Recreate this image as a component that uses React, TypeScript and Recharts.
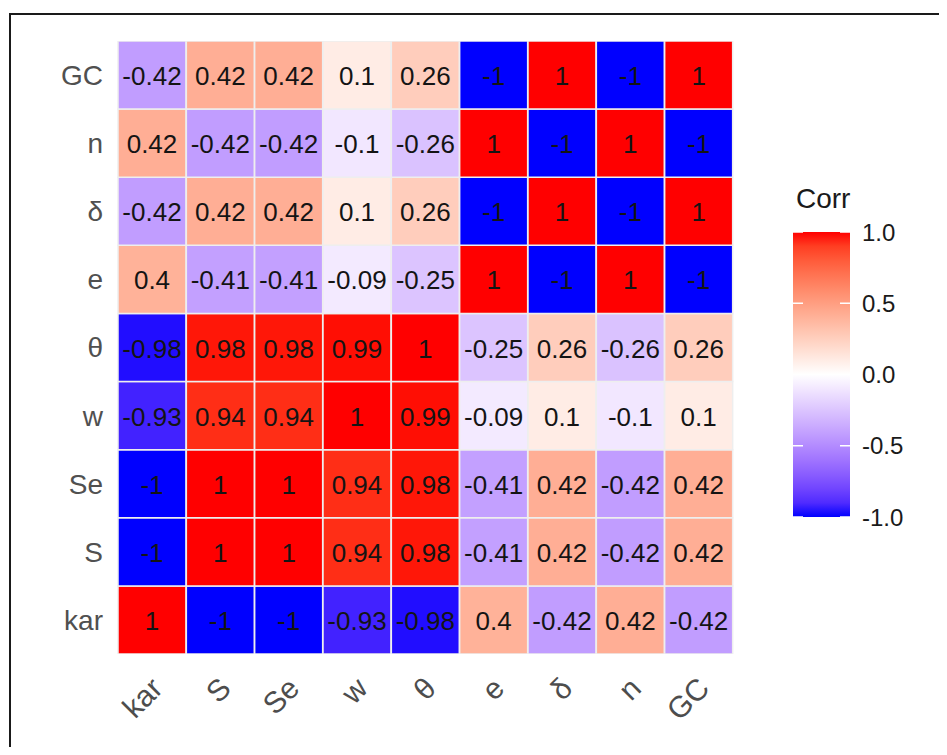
import { BarChart, Bar, XAxis, YAxis, Cell, LabelList } from "recharts";

// variables, bottom row first (kar) / left column first
const variables = ["kar", "S", "Se", "w", "θ", "e", "δ", "n", "GC"];

// correlation rows, columns in the same order as `variables`
const karRow = [1, -1, -1, -0.93, -0.98, 0.4, -0.42, 0.42, -0.42];
const sRow = [-1, 1, 1, 0.94, 0.98, -0.41, 0.42, -0.42, 0.42];
const seRow = [-1, 1, 1, 0.94, 0.98, -0.41, 0.42, -0.42, 0.42];
const wRow = [-0.93, 0.94, 0.94, 1, 0.99, -0.09, 0.1, -0.1, 0.1];
const thetaRow = [-0.98, 0.98, 0.98, 0.99, 1, -0.25, 0.26, -0.26, 0.26];
const eRow = [0.4, -0.41, -0.41, -0.09, -0.25, 1, -1, 1, -1];
const deltaRow = [-0.42, 0.42, 0.42, 0.1, 0.26, -1, 1, -1, 1];
const nRow = [0.42, -0.42, -0.42, -0.1, -0.26, 1, -1, 1, -1];
const gcRow = [-0.42, 0.42, 0.42, 0.1, 0.26, -1, 1, -1, 1];

const corrRows = [karRow, sRow, seRow, wRow, thetaRow, eRow, deltaRow, nRow, gcRow];

const legendBreaks = [1, 0.5, 0, -0.5, -1];
const legendTitle = "Corr";

// --- colour scale: blue -> white -> red, interpolated in Lab like ggplot ---
const toLin = (c: number) => {
  c /= 255;
  return c <= 0.04045 ? c / 12.92 : Math.pow((c + 0.055) / 1.055, 2.4);
};
const fromLin = (c: number) => {
  const v = c <= 0.0031308 ? 12.92 * c : 1.055 * Math.pow(c, 1 / 2.4) - 0.055;
  return Math.round(Math.min(1, Math.max(0, v)) * 255);
};
const WX = 0.95047, WY = 1, WZ = 1.08883;
function rgbToLab([r, g, b]: number[]) {
  const R = toLin(r), G = toLin(g), B = toLin(b);
  const X = (0.4124 * R + 0.3576 * G + 0.1805 * B) / WX;
  const Y = (0.2126 * R + 0.7152 * G + 0.0722 * B) / WY;
  const Z = (0.0193 * R + 0.1192 * G + 0.9505 * B) / WZ;
  const f = (t: number) => (t > 0.008856 ? Math.cbrt(t) : 7.787 * t + 16 / 116);
  const fx = f(X), fy = f(Y), fz = f(Z);
  return [116 * fy - 16, 500 * (fx - fy), 200 * (fy - fz)];
}
function labToHex([L, a, b]: number[]) {
  const fy = (L + 16) / 116;
  const fx = a / 500 + fy;
  const fz = fy - b / 200;
  const inv = (t: number) => (t * t * t > 0.008856 ? t * t * t : (t - 16 / 116) / 7.787);
  const X = WX * inv(fx), Y = WY * inv(fy), Z = WZ * inv(fz);
  const R = 3.2406 * X - 1.5372 * Y - 0.4986 * Z;
  const G = -0.9689 * X + 1.8758 * Y + 0.0415 * Z;
  const B = 0.0557 * X - 0.204 * Y + 1.057 * Z;
  return "#" + [R, G, B].map((c) => fromLin(c).toString(16).padStart(2, "0")).join("");
}
const LOW = rgbToLab([0, 0, 255]);
const MID = rgbToLab([255, 255, 255]);
const HIGH = rgbToLab([255, 0, 0]);
function corrColor(v: number) {
  const end = v >= 0 ? HIGH : LOW;
  const t = Math.min(1, Math.abs(v));
  return labToHex(MID.map((m, i) => m + (end[i] - m) * t));
}

// one object per column; unit height per row cell, plus the value to show
const data = variables.map((col, ci) => {
  const row: Record<string, any> = { col };
  corrRows.forEach((r, ri) => {
    row[`u${ri}`] = 1;
    row[`v${ri}`] = r[ci];
  });
  return row;
});

const FONT = "'Liberation Sans', Arial, sans-serif";
const yTicks = variables.map((_, i) => i + 0.5);

const CellText = (props: any) => {
  const vb = props.viewBox ?? props;
  const { x, y, width, height } = vb;
  return (
    <text
      x={x + width / 2}
      y={y + height / 2 + 1}
      textAnchor="middle"
      dominantBaseline="central"
      fontSize={26}
      fontFamily={FONT}
      fill="#141414"
    >
      {String(props.value)}
    </text>
  );
};

// rotated 45°, text end-top pinned under the column (hjust = vjust = 1)
const XTick = ({ x, y, payload }: any) => {
  const ax = x - 3;
  const ay = y + 13;
  return (
    <text
      x={ax}
      y={ay}
      transform={`rotate(-45, ${ax}, ${ay})`}
      textAnchor="end"
      dy="0.72em"
      fontSize={30}
      fontFamily={FONT}
      fill="#4d4d4d"
    >
      {payload.value}
    </text>
  );
};

const BAR_X = 793, BAR_Y = 232, BAR_W = 57, BAR_H = 285;
const gradStops = Array.from({ length: 21 }, (_, i) => 1 - i * 0.1);

export default function App() {
  return (
    <div style={{ position: "relative", width: 947, height: 755, margin: -8, overflow: "hidden", background: "#fff" }}>
      <div
        style={{
          position: "absolute",
          left: 9,
          top: 13,
          width: 1000,
          height: 800,
          border: "2px solid #1a1a1a",
        }}
      />
      <div style={{ position: "absolute", left: 0, top: 0 }}>
        <BarChart
          width={947}
          height={755}
          data={data}
          margin={{ top: 41, right: 214, bottom: 21, left: 18 }}
          barCategoryGap={0}
          barGap={0}
        >
          <XAxis
            dataKey="col"
            type="category"
            axisLine={false}
            tickLine={false}
            height={80}
            interval={0}
            tick={<XTick />}
          />
          <YAxis
            type="number"
            domain={[0, 9]}
            ticks={yTicks}
            allowDataOverflow
            width={100}
            axisLine={false}
            tickLine={false}
            tickMargin={9}
            tickFormatter={(v: number) => variables[Math.floor(v)]}
            tick={{ fontSize: 28, fill: "#505050", fontFamily: FONT }}
          />
          {variables.map((name, ri) => (
            <Bar
              key={name}
              dataKey={`u${ri}`}
              stackId="m"
              stroke="#eeeeee"
              strokeWidth={1.5}
              isAnimationActive={false}
            >
              {variables.map((c, ci) => (
                <Cell key={c} fill={corrColor(corrRows[ri][ci])} />
              ))}
              <LabelList dataKey={`v${ri}`} content={<CellText />} />
            </Bar>
          ))}
        </BarChart>
      </div>
      <svg width={947} height={755} style={{ position: "absolute", left: 0, top: 0, pointerEvents: "none" }}>
        <defs>
          <linearGradient id="corrGrad" x1="0" y1="0" x2="0" y2="1">
            {gradStops.map((v, i) => (
              <stop key={i} offset={`${(i / (gradStops.length - 1)) * 100}%`} stopColor={corrColor(v)} />
            ))}
          </linearGradient>
        </defs>
        <text x={796} y={208} fontSize={28} fontFamily={FONT} fill="#1a1a1a">
          {legendTitle}
        </text>
        <rect x={BAR_X} y={BAR_Y} width={BAR_W} height={BAR_H} fill="url(#corrGrad)" />
        {legendBreaks.map((b) => {
          const y = BAR_Y + ((1 - b) / 2) * BAR_H;
          return (
            <g key={b}>
              <line x1={BAR_X} x2={BAR_X + 10} y1={y} y2={y} stroke="#fff" strokeWidth={1.5} />
              <line x1={BAR_X + BAR_W - 10} x2={BAR_X + BAR_W} y1={y} y2={y} stroke="#fff" strokeWidth={1.5} />
              <text x={862} y={y} dominantBaseline="central" fontSize={24} fontFamily={FONT} fill="#1a1a1a">
                {b.toFixed(1)}
              </text>
            </g>
          );
        })}
      </svg>
    </div>
  );
}
